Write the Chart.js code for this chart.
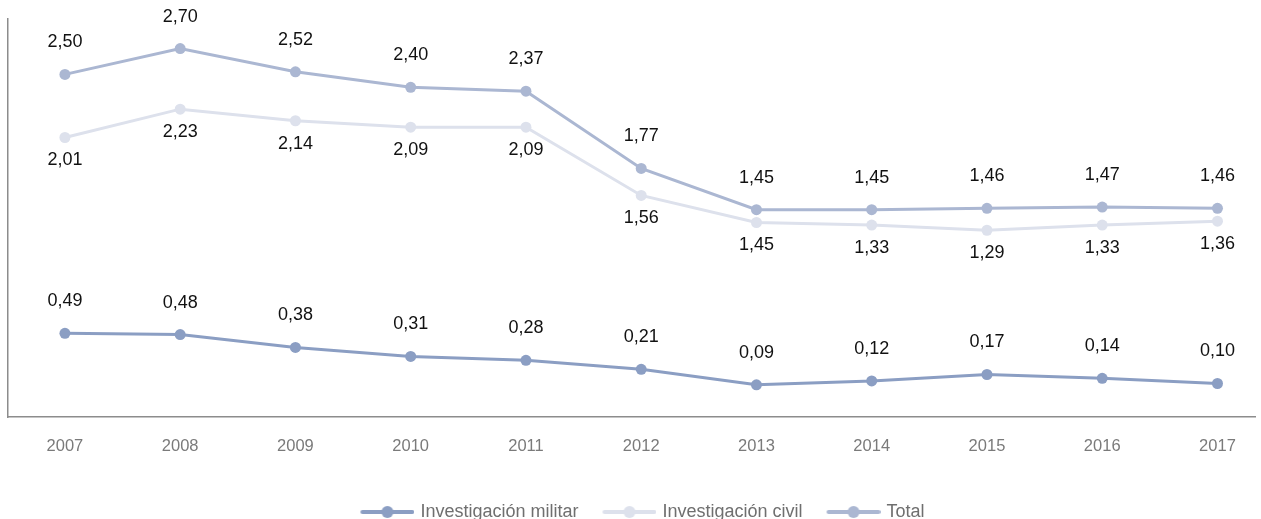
<!DOCTYPE html>
<html>
<head>
<meta charset="utf-8">
<script src="https://cdn.jsdelivr.net/npm/chart.js@4/dist/chart.umd.min.js"></script>
<style>
  html, body { margin: 0; padding: 0; background: #fff; }
  #wrap { width: 1261px; height: 519px; position: relative; }
</style>
</head>
<body>
<div id="wrap"><canvas id="chart"></canvas></div>
<script>
  var years = [2007, 2008, 2009, 2010, 2011, 2012, 2013, 2014, 2015, 2016, 2017];

  var militar = [0.49, 0.48, 0.38, 0.31, 0.28, 0.21, 0.09, 0.12, 0.17, 0.14, 0.10];
  var civil   = [2.01, 2.23, 2.14, 2.09, 2.09, 1.56, 1.35, 1.33, 1.29, 1.33, 1.36];
  var total   = [2.50, 2.70, 2.52, 2.40, 2.37, 1.77, 1.45, 1.45, 1.46, 1.47, 1.46];

  // printed labels (the 2013 civil label in the source reads 1,45)
  var militarLabels = ['0,49', '0,48', '0,38', '0,31', '0,28', '0,21', '0,09', '0,12', '0,17', '0,14', '0,10'];
  var civilLabels   = ['2,01', '2,23', '2,14', '2,09', '2,09', '1,56', '1,45', '1,33', '1,29', '1,33', '1,36'];
  var totalLabels   = ['2,50', '2,70', '2,52', '2,40', '2,37', '1,77', '1,45', '1,45', '1,46', '1,47', '1,46'];

  var FONT = '"Liberation Sans", Arial, Helvetica, sans-serif';

  function pts(vals) {
    return years.map(function (y, i) { return { x: y, y: vals[i] }; });
  }

  // line-with-dot icon for the legend
  function legendIcon(color) {
    var c = document.createElement('canvas');
    c.width = 73; c.height = 14;
    var g = c.getContext('2d');
    g.strokeStyle = color;
    g.lineWidth = 4;
    g.lineCap = 'round';
    g.beginPath(); g.moveTo(21, 7); g.lineTo(71, 7); g.stroke();
    g.fillStyle = color;
    g.beginPath(); g.arc(46, 7, 6, 0, Math.PI * 2); g.fill();
    return c;
  }

  var valueLabels = {
    id: 'valueLabels',
    afterDatasetsDraw: function (chart) {
      var ctx = chart.ctx;
      ctx.save();
      ctx.font = '18px ' + FONT;
      ctx.fillStyle = '#111';
      ctx.textAlign = 'center';
      ctx.textBaseline = 'middle';
      chart.data.datasets.forEach(function (ds, di) {
        var meta = chart.getDatasetMeta(di);
        meta.data.forEach(function (p, i) {
          ctx.fillText(ds.valueText[i], p.x, p.y + ds.labelOffset);
        });
      });
      ctx.restore();
    }
  };

  var colors = { militar: '#8b9ec3', civil: '#dde1ec', total: '#abb7d2' };

  function series(label, vals, texts, color, off) {
    return {
      label: label,
      data: pts(vals),
      valueText: texts,
      labelOffset: off,
      borderColor: color,
      backgroundColor: color,
      borderWidth: 3,
      pointRadius: 5.5,
      pointHoverRadius: 5.5,
      pointBorderWidth: 0,
      pointBackgroundColor: color,
      tension: 0,
      icon: legendIcon(color)
    };
  }

  new Chart(document.getElementById('chart').getContext('2d'), {
    type: 'line',
    data: {
      datasets: [
        series('Investigación militar', militar, militarLabels, colors.militar, -32),
        series('Investigación civil', civil, civilLabels, colors.civil, 23),
        series('Total', total, totalLabels, colors.total, -32)
      ]
    },
    options: {
      responsive: true,
      maintainAspectRatio: false,
      animation: false,
      layout: { padding: { left: 8, right: 0, top: 19, bottom: -12 } },
      scales: {
        x: {
          type: 'linear',
          min: 2006.506,
          max: 2017.33,
          afterBuildTicks: function (s) {
            s.ticks = years.map(function (y) { return { value: y }; });
          },
          afterFit: function (s) { s.height = 78; },
          grid: { display: false, drawTicks: false },
          border: { display: true, color: '#8c8c8c', width: 1.5 },
          ticks: {
            autoSkip: false,
            maxRotation: 0,
            padding: 20,
            color: '#7a7a7a',
            font: { family: FONT, size: 16.5 },
            callback: function (v) { return String(v); }
          }
        },
        y: {
          min: -0.16,
          max: 2.93,
          grid: { display: false, drawTicks: false },
          border: { display: true, color: '#8c8c8c', width: 1.5 },
          ticks: { display: false }
        }
      },
      plugins: {
        tooltip: { enabled: false },
        legend: {
          position: 'bottom',
          labels: {
            usePointStyle: true,
            pointStyleWidth: 67,
            boxHeight: 14,
            padding: 8,
            color: '#6f6f6f',
            font: { family: FONT, size: 18 },
            generateLabels: function (chart) {
              return chart.data.datasets.map(function (ds, i) {
                return {
                  text: ds.label,
                  pointStyle: ds.icon,
                  fillStyle: ds.borderColor,
                  strokeStyle: ds.borderColor,
                  lineWidth: 0,
                  fontColor: '#6f6f6f',
                  hidden: false,
                  datasetIndex: i
                };
              });
            }
          }
        }
      }
    },
    plugins: [valueLabels]
  });
</script>
</body>
</html>
